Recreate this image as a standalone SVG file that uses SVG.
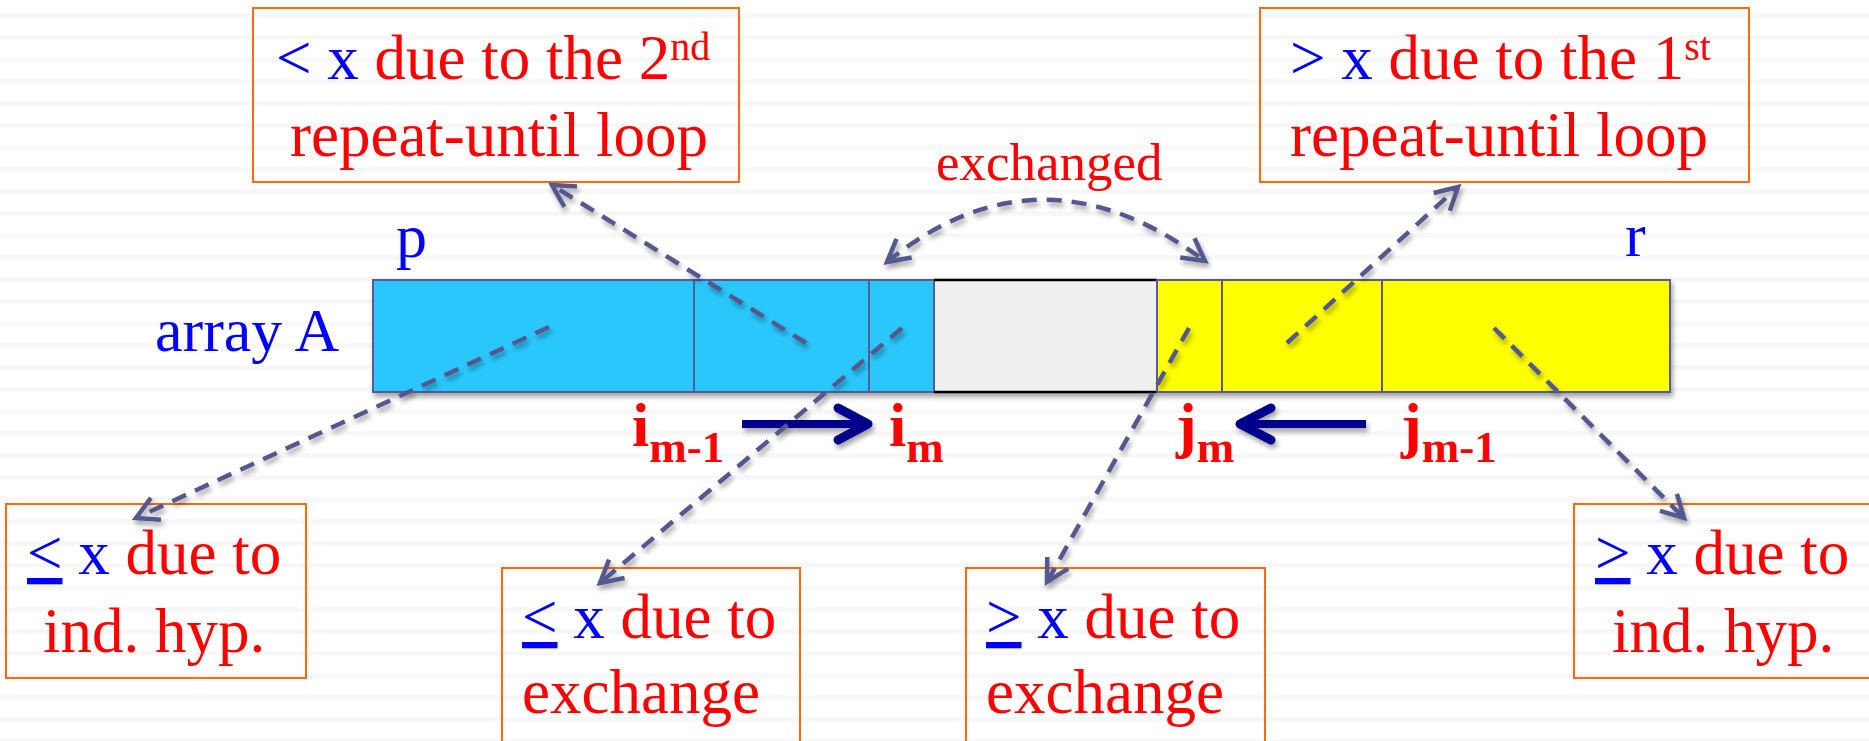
<svg xmlns="http://www.w3.org/2000/svg" width="1869" height="741" viewBox="0 0 1869 741">
<style>
  .t { font-family: "Liberation Serif", "Times New Roman", serif; font-size: 63px; }
  .ex { font-family: "Liberation Serif", "Times New Roman", serif; font-size: 53px; fill: #ff0000; }
  .r { fill: #ff0000; }
  .b { fill: #0000ff; }
  .sup { font-size: 40px; }
  .sub { font-size: 45px; }
  .lbl { font-family: "Liberation Serif", "Times New Roman", serif; font-size: 62px; fill: #0000ff; }
  .idx { font-family: "Liberation Serif", "Times New Roman", serif; font-size: 62px; font-weight: bold; fill: #ff0000; }
  .box { fill: none; stroke: #ff6a0d; stroke-width: 2; }
  .cellB { fill: #29c7fd; stroke: #5a5a9a; stroke-width: 2; }
  .cellY { fill: #ffff00; stroke: #5a5a9a; stroke-width: 2; }
  .conn { fill: none; stroke: #54588f; stroke-width: 4.5; stroke-dasharray: 15 10; }
  .navy { fill: none; stroke: #00008c; }
</style>
<defs>
  <pattern id="stripes" x="0" y="13.3" width="40" height="22" patternUnits="userSpaceOnUse">
    <rect x="0" y="0" width="40" height="4.5" fill="#f7f7f7"/>
  </pattern>
  <filter id="sh" x="-10%" y="-20%" width="130%" height="160%">
    <feDropShadow dx="2" dy="4" stdDeviation="2.5" flood-color="#000" flood-opacity="0.35"/>
  </filter>
  <marker id="ah" markerUnits="userSpaceOnUse" orient="auto-start-reverse" refX="0" refY="0" markerWidth="40" markerHeight="40" overflow="visible">
    <path d="M-22,-12 L0,0 L-22,12" fill="none" stroke="#54588f" stroke-width="4.5" stroke-linejoin="miter"/>
  </marker>
</defs>

<rect x="0" y="0" width="1869" height="741" fill="#ffffff"/>
<rect x="0" y="0" width="1869" height="741" fill="url(#stripes)"/>

<g id="array" filter="url(#sh)">
  <rect class="cellB" x="373" y="280" width="321" height="112"/>
  <rect class="cellB" x="694" y="280" width="175" height="112"/>
  <rect class="cellB" x="869" y="280" width="65" height="112"/>
  <rect x="935" y="280" width="222" height="112" fill="#efefef"/>
  <line x1="934" y1="280" x2="1157" y2="280" stroke="#000" stroke-width="2.5"/>
  <line x1="934" y1="392" x2="1157" y2="392" stroke="#000" stroke-width="2.5"/>
  <rect class="cellY" x="1157" y="280" width="65" height="112"/>
  <rect class="cellY" x="1222" y="280" width="160" height="112"/>
  <rect class="cellY" x="1382" y="280" width="288" height="112"/>
</g>

<g id="label-array">
  <text class="lbl" x="155" y="351">array A</text>
</g>
<g id="label-p">
  <text class="lbl" x="396" y="257">p</text>
</g>
<g id="label-r">
  <text class="lbl" x="1625" y="256">r</text>
</g>

<g id="move-i" filter="url(#sh)">
  <line class="navy" x1="742" y1="424" x2="862" y2="424" stroke-width="8"/>
  <path class="navy" d="M838,408 L868,424 L838,440" stroke-width="9" stroke-linecap="round" stroke-linejoin="round"/>
</g>
<g id="move-j" filter="url(#sh)">
  <line class="navy" x1="1366" y1="424" x2="1246" y2="424" stroke-width="8"/>
  <path class="navy" d="M1271,408 L1240,424 L1271,440" stroke-width="9" stroke-linecap="round" stroke-linejoin="round"/>
</g>

<g id="idx-im1"><text class="idx" x="632" y="446">i<tspan class="sub" dy="16">m-1</tspan></text></g>
<g id="idx-im"><text class="idx" x="889" y="446">i<tspan class="sub" dy="16">m</tspan></text></g>
<g id="idx-jm"><text class="idx" x="1176" y="446">j<tspan class="sub" dy="16">m</tspan></text></g>
<g id="idx-jm1"><text class="idx" x="1401" y="446">j<tspan class="sub" dy="16">m-1</tspan></text></g>

<g id="label-exchanged">
  <text class="ex" x="936" y="180">exchanged</text>
</g>

<g id="box-lt-2nd">
  <rect class="box" x="253" y="8" width="486" height="174"/>
  <text class="t r" x="276" y="79"><tspan class="b">&lt; x</tspan> due to the 2<tspan class="sup" dy="-19">nd</tspan></text>
  <text class="t r" x="290" y="156">repeat-until loop</text>
</g>

<g id="box-gt-1st">
  <rect class="box" x="1260" y="8" width="489" height="174"/>
  <text class="t r" x="1290" y="79"><tspan class="b">&gt; x</tspan> due to the 1<tspan class="sup" dy="-19">st</tspan></text>
  <text class="t r" x="1290" y="156">repeat-until loop</text>
</g>

<g id="box-le-ind">
  <rect class="box" x="6" y="504" width="300" height="174"/>
  <text class="t r" x="27" y="574"><tspan class="b" text-decoration="underline">&lt;</tspan><tspan class="b"> x</tspan> due to</text>
  <text class="t r" x="43" y="652">ind. hyp.</text>
</g>

<g id="box-le-exch">
  <rect class="box" x="502" y="568" width="298" height="200"/>
  <text class="t r" x="522" y="638"><tspan class="b" text-decoration="underline">&lt;</tspan><tspan class="b"> x</tspan> due to</text>
  <text class="t r" x="522" y="713">exchange</text>
</g>

<g id="box-ge-exch">
  <rect class="box" x="966" y="568" width="299" height="200"/>
  <text class="t r" x="986" y="638"><tspan class="b" text-decoration="underline">&gt;</tspan><tspan class="b"> x</tspan> due to</text>
  <text class="t r" x="986" y="713">exchange</text>
</g>

<g id="box-ge-ind">
  <rect class="box" x="1574" y="504" width="310" height="174"/>
  <text class="t r" x="1595" y="574"><tspan class="b" text-decoration="underline">&gt;</tspan><tspan class="b"> x</tspan> due to</text>
  <text class="t r" x="1612" y="652">ind. hyp.</text>
</g>

<g id="connectors" filter="url(#sh)">
  <path class="conn" d="M806,343 L552,185" marker-end="url(#ah)"/>
  <path class="conn" d="M549,327 L136,518" marker-end="url(#ah)"/>
  <path class="conn" d="M902,328 L600,583" marker-end="url(#ah)"/>
  <path class="conn" d="M887,262 Q1040,138 1205,261" marker-start="url(#ah)" marker-end="url(#ah)"/>
  <path class="conn" d="M1189,328 L1047,582" marker-end="url(#ah)"/>
  <path class="conn" d="M1287,343 L1458,187" marker-end="url(#ah)"/>
  <path class="conn" d="M1494,328 L1684,518" marker-end="url(#ah)"/>
</g>
</svg>
